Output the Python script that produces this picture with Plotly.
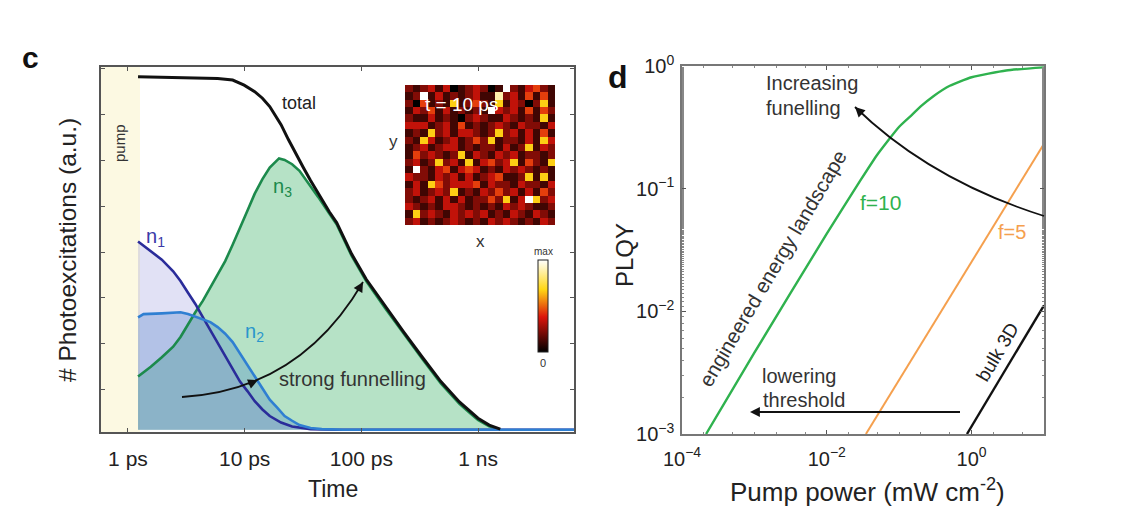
import plotly.graph_objects as go

# page body has an 8px margin, so the figure is drawn 8px in from the window corner
OFF = 8
W, H = 1142 - OFF, 530 - OFF
def px(x): return (x - OFF) / W
def py(y): return 1 - (y - OFF) / H

# ---------------- Panel c data (time in ps, a.u.) ----------------
t_total = [1.22, 5.87, 7.89, 9.9, 12.2, 14.2, 16.4, 20.5, 23.7, 27.4, 31.8, 36.7, 42.6,
           53.1, 61.5, 82.4, 110, 160, 230, 333, 480, 692, 861, 998, 1245, 1442, 1549]
total = [0.973, 0.968, 0.964, 0.950, 0.932, 0.914, 0.891, 0.841, 0.800, 0.760, 0.723, 0.687, 0.651,
         0.601, 0.571, 0.485, 0.415, 0.340, 0.270, 0.200, 0.133, 0.077, 0.050, 0.032, 0.013, 0.005, 0.002]

t_n1 = [1.22, 1.57, 1.95, 2.44, 2.82, 3.27, 3.78, 4.39, 5.08, 5.87, 6.81, 7.89, 9.12, 10.6,
        12.2, 14.2, 16.4, 20.5, 25.5, 36.7, 60, 6700]
n1 = [0.519, 0.492, 0.469, 0.437, 0.410, 0.378, 0.347, 0.310, 0.274, 0.238, 0.201, 0.165, 0.133, 0.106,
      0.079, 0.056, 0.038, 0.020, 0.009, 0.002, 0.0, 0.0]

t_n2 = [1.22, 1.36, 1.95, 2.82, 3.27, 3.78, 4.39, 5.08, 5.87, 6.81, 7.89, 9.12, 10.6, 12.2,
        14.2, 16.4, 19.0, 22.0, 25.5, 29.5, 36.7, 45.8, 70, 6700]
n2 = [0.310, 0.319, 0.321, 0.324, 0.319, 0.312, 0.306, 0.297, 0.283, 0.265, 0.242, 0.211, 0.179, 0.147,
      0.115, 0.083, 0.061, 0.038, 0.025, 0.013, 0.005, 0.002, 0.0, 0.0]

t_n3 = [1.22, 1.57, 1.95, 2.44, 2.82, 3.27, 3.78, 4.39, 5.08, 5.87, 6.81, 7.89, 9.12, 10.6,
        12.2, 14.2, 16.4, 19.7, 22.0, 25.5, 29.5, 36.7, 42.6, 53.1, 61.5, 82.4, 110, 160,
        230, 333, 480, 692, 861, 998, 1245, 1442, 1549]
n3 = [0.147, 0.174, 0.200, 0.229, 0.256, 0.292, 0.324, 0.356, 0.392, 0.428, 0.465, 0.510, 0.555, 0.605,
      0.651, 0.691, 0.723, 0.748, 0.744, 0.732, 0.714, 0.673, 0.642, 0.596, 0.566, 0.480, 0.410, 0.335,
      0.265, 0.195, 0.128, 0.072, 0.045, 0.027, 0.010, 0.003, 0.0]

x_ticks_c = [1, 10, 100, 1000]
x_labels_c = ["1 ps", "10 ps", "100 ps", "1 ns"]
y_ticks_c = [0.112, 0.238, 0.364, 0.490, 0.616, 0.742, 0.868, 0.995]

# inset map at t = 10 ps (intensity levels 0..9, rows top to bottom)
heat_rows = [
    "21231301232019213421",
    "12913121231182314141",
    "20412161242161320261",
    "13241312121932314142",
    "21131210232113212161",
    "33312314121232132213",
    "12162313321262313141",
    "21631231242612213163",
    "12312331212213126132",
    "14232126132132312212",
    "23126231613423614216",
    "19213413431213232121",
    "32213231312341126161",
    "13164233341322132213",
    "23123261213242313142",
    "21231313122426139623",
    "32121332121213232112",
    "16232132323121321321",
    "23121232121323212132",
]
heat = [[int(c) for c in r] for r in heat_rows]
hot_scale = [[0, "rgb(0,0,0)"], [0.38, "rgb(220,20,10)"], [0.68, "rgb(255,215,20)"], [1, "rgb(255,255,255)"]]

# ---------------- Panel d data ----------------
P_f10 = [2.15e-4, 1e-3, 1e-2, 3e-2, 5e-2, 0.1, 0.15, 0.2, 0.3, 0.5, 1.0, 3.0, 10.0]
Q_f10 = [1.0e-3, 4.6e-3, 0.043, 0.12, 0.19, 0.32, 0.40, 0.47, 0.57, 0.69, 0.81, 0.92, 0.975]
P_f5 = [0.0347, 0.1, 1.0, 10.0]
Q_f5 = [0.001, 0.00277, 0.0254, 0.232]
P_bulk = [0.863, 10.0]
Q_bulk = [0.001, 0.0112]
x_ticks_d = [1e-4, 1e-2, 1]
x_labels_d = ["10<sup>−4</sup>", "10<sup>−2</sup>", "10<sup>0</sup>"]
y_ticks_d = [1e-3, 1e-2, 1e-1, 1]
y_labels_d = ["10<sup>−3</sup>", "10<sup>−2</sup>", "10<sup>−1</sup>", "10<sup>0</sup>"]

FONT = "Arial, Liberation Sans, sans-serif"

fig = go.Figure()

# fills
fig.add_trace(go.Scatter(x=t_n3, y=n3, mode="lines", line=dict(width=0), fill="tozeroy",
                         fillcolor="rgba(80,185,120,0.42)", hoverinfo="skip", showlegend=False))
fig.add_trace(go.Scatter(x=t_n2, y=n2, mode="lines", line=dict(width=0), fill="tozeroy",
                         fillcolor="rgba(60,125,200,0.30)", hoverinfo="skip", showlegend=False))
fig.add_trace(go.Scatter(x=t_n1, y=n1, mode="lines", line=dict(width=0), fill="tozeroy",
                         fillcolor="rgba(120,120,210,0.22)", hoverinfo="skip", showlegend=False))
# lines
fig.add_trace(go.Scatter(x=t_n3, y=n3, mode="lines", line=dict(color="#1c8a4c", width=2.6), showlegend=False))
fig.add_trace(go.Scatter(x=t_n1, y=n1, mode="lines", line=dict(color="#2a2c9a", width=2.6), showlegend=False))
fig.add_trace(go.Scatter(x=t_n2, y=n2, mode="lines", line=dict(color="#2f7fd2", width=2.6), showlegend=False))
fig.add_trace(go.Scatter(x=t_total, y=total, mode="lines", line=dict(color="#111111", width=3), showlegend=False))

# inset heatmap
fig.add_trace(go.Heatmap(z=heat, xaxis="x3", yaxis="y3", zmin=0, zmax=9, colorscale=hot_scale,
                         showscale=True,
                         colorbar=dict(x=px(538), xanchor="left", y=py(306), yanchor="middle",
                                       len=92 / H, lenmode="fraction", thickness=10,
                                       xpad=0, ypad=0, outlinewidth=1, outlinecolor="#222",
                                       showticklabels=False, ticks="")))

# panel d
fig.add_trace(go.Scatter(x=P_f10, y=Q_f10, xaxis="x2", yaxis="y2", mode="lines",
                         line=dict(color="#2fb24e", width=2.4, shape="spline", smoothing=0.5), showlegend=False))
fig.add_trace(go.Scatter(x=P_f5, y=Q_f5, xaxis="x2", yaxis="y2", mode="lines",
                         line=dict(color="#f5a04e", width=2), showlegend=False))
fig.add_trace(go.Scatter(x=P_bulk, y=Q_bulk, xaxis="x2", yaxis="y2", mode="lines",
                         line=dict(color="#111111", width=2.4), showlegend=False))

axis_common = dict(showgrid=False, zeroline=False, showline=True, mirror="ticks",
                   ticks="inside", ticklen=4, tickcolor="#555", automargin=False)

fig.update_layout(
    width=W, height=H, margin=dict(l=0, r=0, t=0, b=0, pad=0, autoexpand=False),
    paper_bgcolor="white", plot_bgcolor="white",
    font=dict(family=FONT, color="#222"),
    xaxis=dict(domain=[px(101), px(574)], type="log", range=[-0.231, 3.822],
               tickvals=x_ticks_c, ticktext=x_labels_c, tickfont=dict(size=21, color="#222"),
               ticklabelstandoff=7, linecolor="#555", linewidth=1.5, **axis_common),
    yaxis=dict(domain=[py(432), py(67)], range=[-0.006, 1.0], tickvals=y_ticks_c,
               showticklabels=False, linecolor="#555", linewidth=1.5, **axis_common),
    xaxis2=dict(domain=[px(682), px(1044)], type="log", range=[-4, 1], anchor="y2",
                tickvals=x_ticks_d, ticktext=x_labels_d, tickfont=dict(size=20, color="#222"),
                ticklabelstandoff=6, linecolor="#777", linewidth=1.5,
                minor=dict(ticks="inside", ticklen=2, tickcolor="#888"), **axis_common),
    yaxis2=dict(domain=[py(434), py(66)], type="log", range=[-3, 0], anchor="x2",
                tickvals=y_ticks_d, ticktext=y_labels_d, tickfont=dict(size=20, color="#222"),
                ticklabelstandoff=2, linecolor="#777", linewidth=1.5,
                minor=dict(ticks="inside", ticklen=2, tickcolor="#888"), **axis_common),
    xaxis3=dict(domain=[px(405), px(555)], anchor="y3", range=[-0.5, 19.5],
                showticklabels=False, showgrid=False, zeroline=False, ticks=""),
    yaxis3=dict(domain=[py(225), py(85)], anchor="x3", range=[18.5, -0.5],
                showticklabels=False, showgrid=False, zeroline=False, ticks=""),
)

# pump band
fig.add_shape(type="rect", xref="paper", yref="paper", x0=px(101), x1=px(140), y0=py(432), y1=py(67),
              fillcolor="#fcf9e2", line=dict(width=0), layer="below")

def ann(x, y, text, size=16, color="#222", angle=0, xanchor="center", yanchor="middle", bold=False):
    if bold:
        text = "<b>" + text + "</b>"
    fig.add_annotation(x=px(x), y=py(y), xref="paper", yref="paper", text=text, showarrow=False,
                       font=dict(size=size, color=color, family=FONT), textangle=angle,
                       xanchor=xanchor, yanchor=yanchor)

# panel labels and axis titles
ann(30, 57, "c", size=30, color="#111", bold=True)
ann(618, 77, "d", size=32, color="#111", bold=True)
ann(67, 250, "# Photoexcitations (a.u.)", size=24.5, angle=-90)
ann(333, 489, "Time", size=23)
ann(624, 255, "PLQY", size=24, angle=-90)
ann(867, 490, "Pump power (mW cm<sup>-2</sup>)", size=26)

# panel c texts
ann(120, 143, "pump", size=15, angle=-90, color="#333")
ann(299, 103, "total", size=18, color="#222")
ann(155, 238, "n<sub>1</sub>", size=20, color="#3a3aa8")
ann(254, 332, "n<sub>2</sub>", size=20, color="#2a96cc")
ann(282, 187, "n<sub>3</sub>", size=20, color="#1c8a4c")
ann(352, 379, "strong funnelling", size=20, color="#333")
ann(461, 104, "t = 10 ps", size=19, color="white")
ann(393, 142, "y", size=17, color="#333")
ann(480, 241, "x", size=17, color="#333")
ann(543, 252, "max", size=10, color="#333")
ann(543, 363, "0", size=11, color="#333")

# panel d texts
ann(764, 83, "Increasing", size=20, color="#333", xanchor="left")
ann(764, 108, "funelling", size=20, color="#333", xanchor="left")
ann(760, 376, "lowering", size=20, color="#333", xanchor="left")
ann(761, 400, "threshold", size=20, color="#333", xanchor="left")
ann(772, 268, "engineered energy landscape", size=20.5, color="#333", angle=-59.5)
ann(880, 202, "f=10", size=21, color="#2fb24e")
ann(1012, 232, "f=5", size=20, color="#f5a04e")
ann(997, 352, "bulk 3D", size=19, color="#222", angle=-59.5)

# curved arrows (paper coordinates)
def qpath(p0, p1, p2):
    return "M {} {} Q {} {} {} {}".format(px(p0[0]), py(p0[1]), px(p1[0]), py(p1[1]), px(p2[0]), py(p2[1]))

fig.add_shape(type="path", xref="paper", yref="paper", path=qpath((182, 397), (300, 390), (363, 282)),
              line=dict(color="#111", width=1.8))
fig.add_shape(type="path", xref="paper", yref="paper", path=qpath((1044, 216), (930, 180), (855, 107)),
              line=dict(color="#111", width=1.8))
fig.add_shape(type="line", xref="paper", yref="paper", x0=px(960), y0=py(412), x1=px(752), y1=py(412),
              line=dict(color="#111", width=2))

def head(x, y, tx, ty, k=12):
    n = (tx * tx + ty * ty) ** 0.5
    fig.add_annotation(x=px(x), y=py(y), xref="paper", yref="paper", text="", showarrow=True,
                       ax=-tx / n * k, ay=-ty / n * k, arrowhead=2, arrowsize=1.1, arrowwidth=1.8,
                       arrowcolor="#111")

head(363, 282, 126, -216)
head(258, 380, 197, -85)
head(855, 107, -150, -146)
head(750, 412, -1, 0)

fig.write_html("out.html")
